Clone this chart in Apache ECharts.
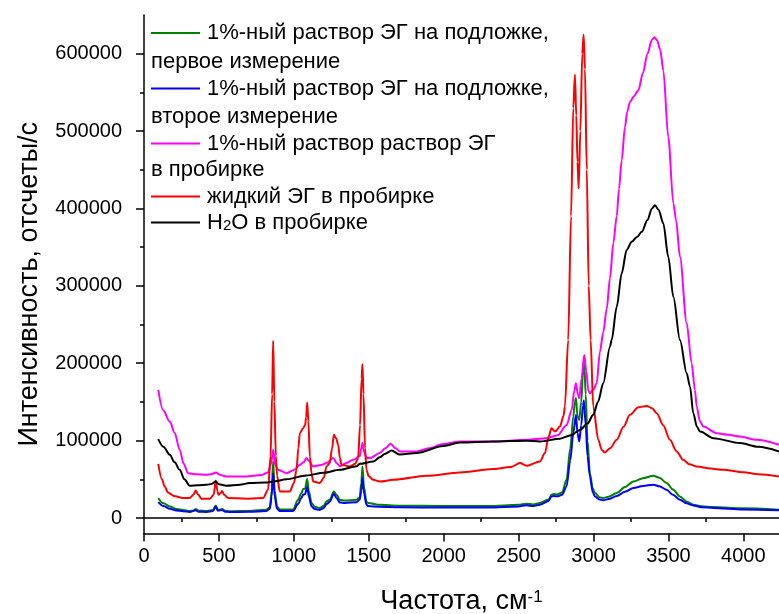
<!DOCTYPE html>
<html><head><meta charset="utf-8">
<script src="https://cdn.jsdelivr.net/npm/echarts@6/dist/echarts.min.js"></script>
<style>html,body{margin:0;padding:0;background:#fff}#c{width:779px;height:614px}</style>
</head><body><div id="c"></div>
<script>
const FONT = "'Liberation Sans', Arial, sans-serif";
const legendLabels = [
  ["1%-ный раствор ЭГ на подложке,", "первое измерение"],
  ["1%-ный раствор ЭГ на подложке,", "второе измерение"],
  ["1%-ный раствор раствор ЭГ", "в пробирке"],
  ["жидкий ЭГ в пробирке"],
  ["H{sub|2}O в пробирке"]
];
const seriesNames = ["1%-ный раствор ЭГ на подложке, первое измерение","1%-ный раствор ЭГ на подложке, второе измерение","1%-ный раствор раствор ЭГ в пробирке","жидкий ЭГ в пробирке","H2O в пробирке"];
const colors = ["#008000","#0000ff","#ff00ff","#ff0000","#000000"];
const xTickLabels = [0,500,1000,1500,2000,2500,3000,3500,4000];
const xMinorTicks = [250,750,1250,1750,2250,2750,3250,3750];
const yTickLabels = [0,100000,200000,300000,400000,500000,600000];
const yMinorTicks = [50000,150000,250000,350000,450000,550000];

const greenData = [[95,25800],[130,19000],[172,15000],[216,11600],[260,10500],[305,9000],[330,9500],[345,11600],[365,9500],[417,9000],[460,10500],[479,16300],[492,11000],[505,10500],[521,11800],[540,9500],[570,8800],[700,9200],[817,10700],[840,14000],[852,35000],[862,73000],[872,35000],[888,15000],[906,11000],[995,11000],[1028,23600],[1050,32000],[1062,37400],[1075,38000],[1089,50300],[1100,35000],[1118,19400],[1140,14500],[1173,12900],[1200,16000],[1218,21400],[1240,24000],[1267,34300],[1285,30000],[1307,23600],[1340,22500],[1418,23600],[1440,27000],[1450,45000],[1458,66600],[1468,40000],[1485,21000],[1496,19400],[1574,17000],[1700,16000],[2000,15500],[2300,15500],[2500,17000],[2550,18500],[2600,17500],[2642,19400],[2700,24000],[2720,30000],[2735,31000],[2760,30500],[2790,33000],[2820,49400],[2845,90000],[2865,131100],[2876,150000],[2883,155000],[2893,132000],[2905,126800],[2918,150000],[2930,190000],[2938,200000],[2948,160000],[2960,100000],[2976,58000],[2995,38000],[3010,32300],[3040,27000],[3065,25800],[3100,27500],[3155,32300],[3210,40000],[3266,47200],[3330,51500],[3399,54600],[3440,52000],[3488,45200],[3530,37000],[3577,27900],[3620,21500],[3666,17200],[3720,15200],[3800,14200],[4000,12500],[4238,10700]];
const blueData = [[95,20600],[130,15500],[172,12000],[216,9800],[260,8800],[305,7800],[345,10000],[365,8200],[417,7800],[460,9000],[479,15000],[492,9500],[521,10500],[540,8200],[570,7800],[700,8000],[817,9000],[840,12000],[852,28000],[862,58000],[872,28000],[888,12000],[906,9000],[995,9000],[1028,18000],[1050,26000],[1062,30000],[1075,31000],[1089,40800],[1100,28000],[1118,15000],[1140,11500],[1173,10500],[1200,13000],[1218,18000],[1240,21000],[1267,31300],[1285,26000],[1307,20000],[1340,19500],[1418,20500],[1440,24000],[1450,36000],[1458,51600],[1468,32000],[1485,17000],[1496,15500],[1574,14500],[1700,13800],[2000,13500],[2300,13500],[2500,15000],[2550,16500],[2600,15500],[2642,17200],[2700,22000],[2720,28000],[2735,28500],[2760,28000],[2790,30000],[2820,40800],[2845,75000],[2865,109700],[2883,133300],[2893,110000],[2905,98800],[2918,120000],[2930,145000],[2936,151700],[2948,120000],[2960,80000],[2976,53700],[2995,33000],[3010,27900],[3040,24000],[3065,23000],[3100,24500],[3155,28500],[3210,34000],[3266,38700],[3330,41500],[3399,43000],[3440,41000],[3488,36500],[3530,30000],[3577,23600],[3620,19000],[3666,16300],[3720,14000],[3800,13000],[4000,11000],[4238,9900]];
const magentaData = [[95,165500],[127,139700],[172,124600],[205,110000],[238,88100],[265,70000],[294,58000],[350,56500],[417,55900],[450,56500],[479,58800],[510,55500],[550,53700],[684,53700],[780,55500],[828,58800],[848,70000],[862,88100],[876,68000],[895,62300],[951,58000],[1000,62000],[1040,68800],[1065,72000],[1084,77400],[1100,74000],[1129,66600],[1180,68500],[1218,71000],[1262,77400],[1290,70000],[1307,67000],[1350,71000],[1396,75200],[1440,80000],[1450,90000],[1458,96800],[1468,86000],[1485,77400],[1507,77400],[1574,83900],[1610,90000],[1645,95900],[1680,90000],[1708,86000],[1819,86000],[1900,90000],[1997,95500],[2108,98800],[2331,98800],[2554,101000],[2687,103000],[2760,107000],[2820,120000],[2855,140000],[2872,165000],[2883,174200],[2895,160000],[2905,154800],[2920,180000],[2938,210700],[2952,190000],[2965,165000],[2976,161300],[3000,166000],[3021,174200],[3043,215000],[3065,240000],[3088,270000],[3110,310000],[3132,355000],[3155,390000],[3170,425000],[3188,462300],[3210,505300],[3225,525000],[3243,537500],[3270,545000],[3299,552600],[3330,575000],[3360,600000],[3390,618000],[3406,621400],[3425,617000],[3445,605000],[3466,578400],[3499,492400],[3533,406400],[3551,384900],[3577,337500],[3622,251600],[3655,200000],[3677,165500],[3689,144000],[3710,125000],[3733,118200],[3822,109700],[3900,107500],[3978,105300],[4089,101000],[4238,94600]];
const redData = [[95,70000],[120,50000],[138,40800],[160,33000],[200,28500],[260,25800],[305,25800],[330,30000],[345,35600],[362,30000],[383,25000],[440,25000],[465,30000],[479,48500],[490,35000],[497,30100],[510,32000],[521,35000],[535,30000],[561,25800],[700,25000],[795,25800],[828,36500],[845,80000],[855,160000],[862,229200],[870,150000],[880,80000],[888,55000],[906,34300],[973,34300],[1000,45000],[1018,62300],[1030,90000],[1040,109700],[1062,116100],[1075,120000],[1082,130000],[1089,149200],[1097,125000],[1107,79500],[1118,58000],[1129,47200],[1173,45200],[1200,52000],[1218,66600],[1240,71000],[1255,90000],[1267,107500],[1282,103000],[1296,94600],[1307,78000],[1318,68800],[1374,66600],[1410,70000],[1429,77400],[1442,120000],[1452,180000],[1458,198700],[1465,160000],[1475,90000],[1485,62000],[1500,54000],[1529,49400],[1574,47200],[1663,49400],[1886,54600],[2108,58800],[2331,63200],[2450,66000],[2509,71000],[2554,67500],[2642,73000],[2676,83900],[2700,105000],[2720,116100],[2743,111700],[2776,118200],[2800,132000],[2809,144000],[2831,230000],[2850,390000],[2865,530000],[2876,572900],[2885,520000],[2893,460000],[2901,425800],[2912,500000],[2925,600000],[2934,624900],[2943,580000],[2955,450000],[2968,300000],[2981,230000],[2998,144000],[3032,101000],[3055,88000],[3076,84600],[3110,90000],[3155,101000],[3200,118000],[3243,133300],[3300,143000],[3355,144900],[3390,142000],[3422,135500],[3465,120000],[3510,101000],[3555,86000],[3599,75200],[3640,69500],[3689,66600],[3780,64000],[3867,62300],[4000,59000],[4100,56500],[4238,53700]];
const blackData = [[95,101900],[130,92000],[172,81700],[205,72000],[238,62300],[270,50000],[305,41700],[360,42500],[417,43000],[450,44000],[479,47200],[500,43500],[550,41700],[639,43000],[706,45200],[817,45800],[862,47200],[950,50000],[1084,55000],[1200,58500],[1307,62300],[1420,67000],[1441,70000],[1529,73000],[1574,78500],[1610,83000],[1652,87200],[1708,82000],[1819,84000],[1997,93000],[2108,97500],[2331,98800],[2554,100000],[2642,98800],[2776,102500],[2850,107000],[2910,113900],[2960,122000],[2998,133300],[3030,150000],[3065,174200],[3110,221400],[3121,230000],[3155,273000],[3188,316100],[3221,346200],[3255,356900],[3290,363000],[3322,369800],[3360,385000],[3390,400000],[3410,404200],[3435,398000],[3466,380600],[3499,337500],[3533,285900],[3577,230000],[3622,187100],[3644,170000],[3666,135500],[3690,118000],[3711,111700],[3800,103200],[3978,96800],[4100,92000],[4238,86000]];
const allData = [greenData, blueData, magentaData, redData, blackData];

const X_MIN = 0, X_MAX = 4238, Y_MIN = -20000, Y_MAX = 650000;
const axisLineStyle = {color:'#000', width:1.5};
const plain = v => String(v);

const legendRows = [[33, 61.5],[88.5, 116.5],[143.5, 170],[196.5],[222.5]];
const graphics = [];
legendLabels.forEach((lab, i) => {
  const ry = legendRows[i];
  graphics.push({type:'line', shape:{x1:151,y1:ry[0],x2:200,y2:ry[0]}, style:{stroke:colors[i], lineWidth:2}, z:100});
  graphics.push({type:'text', x:207, y:ry[0], z:100, style:{text:lab[0], fontSize:22, fontFamily:FONT, fill:'#000', verticalAlign:'middle',
    rich:{sub:{fontSize:15, fontFamily:FONT, verticalAlign:'bottom', lineHeight:15}}}});
  if (lab[1]) graphics.push({type:'text', x:151, y:ry[1], z:100, style:{text:lab[1], fontSize:22, fontFamily:FONT, fill:'#000', verticalAlign:'middle'}});
});

const chart = echarts.init(document.getElementById('c'), null, {renderer:'canvas'});
chart.setOption({
  animation:false,
  backgroundColor:'#fff',
  textStyle:{fontFamily:FONT},
  grid:{left:144, top:15, right:0, bottom:80.5, containLabel:false, outerBoundsMode:'none'},
  xAxis:[
    {type:'value', min:X_MIN, max:X_MAX, interval:500, position:'bottom',
     axisLine:{show:true, lineStyle:axisLineStyle, onZero:false},
     axisTick:{show:true, length:8, inside:false, customValues:xTickLabels, lineStyle:{color:'#000',width:1.5}},
     axisLabel:{customValues:xTickLabels, formatter:plain, fontSize:20, color:'#000', margin:13, fontFamily:FONT},
     splitLine:{show:false},
     name:'Частота, см{sup|-1}', nameLocation:'middle', nameGap:55,
     nameTextStyle:{fontSize:27, color:'#000', fontFamily:FONT, rich:{sup:{fontSize:17, fontFamily:FONT, verticalAlign:'top', lineHeight:17}}}},
    {type:'value', min:X_MIN, max:X_MAX, position:'bottom', gridIndex:0,
     axisLine:{show:false}, axisLabel:{show:false}, splitLine:{show:false},
     axisTick:{show:true, length:4, customValues:xMinorTicks, lineStyle:{color:'#000',width:1.5}}},
    {type:'value', min:X_MIN, max:X_MAX, position:'top', gridIndex:0,
     axisLine:{show:true, lineStyle:axisLineStyle}, axisLabel:{show:false}, axisTick:{show:false}, splitLine:{show:false}}
  ],
  yAxis:[
    {type:'value', min:Y_MIN, max:Y_MAX, position:'left',
     axisLine:{show:true, lineStyle:axisLineStyle, onZero:false},
     axisTick:{show:true, length:8, customValues:yTickLabels, lineStyle:{color:'#000',width:1.5}},
     axisLabel:{customValues:yTickLabels, formatter:plain, fontSize:20, color:'#000', margin:22, fontFamily:FONT},
     splitLine:{show:false},
     name:'Интенсивность, отсчеты/с', nameLocation:'middle', nameGap:101,
     nameTextStyle:{fontSize:27, color:'#000', fontFamily:FONT, padding:[0,20,0,0]}},
    {type:'value', min:Y_MIN, max:Y_MAX, position:'left',
     axisLine:{show:false}, axisLabel:{show:false}, splitLine:{show:false},
     axisTick:{show:true, length:4, customValues:yMinorTicks, lineStyle:{color:'#000',width:1.5}}}
  ],
  series: allData.map((d, i) => ({
    name: seriesNames[i], type:'line', data:d, xAxisIndex:0, yAxisIndex:0,
    showSymbol:false, smooth:0.3, smoothMonotone:'x',
    lineStyle:{color:colors[i], width:2}, itemStyle:{color:colors[i]}, z:2+i
  })),
  graphic: graphics
});
</script></body></html>
